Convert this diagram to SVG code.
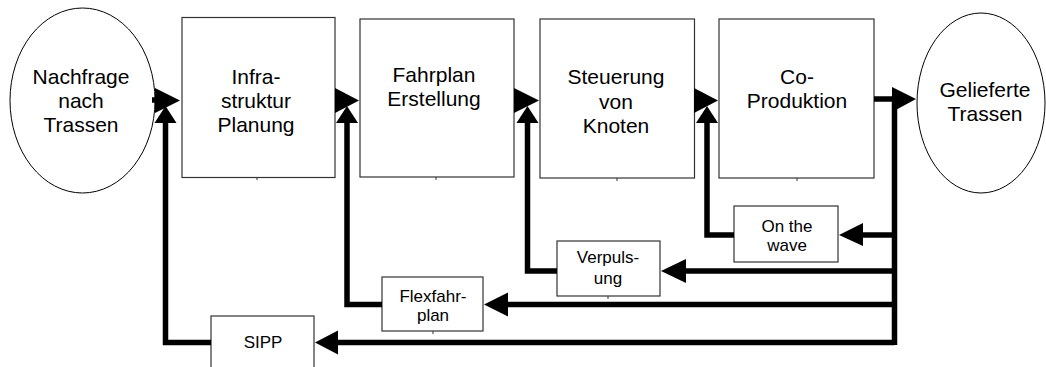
<svg xmlns="http://www.w3.org/2000/svg" width="1046" height="367" viewBox="0 0 1046 367">
<style>
.box{fill:#fff;stroke:#333;stroke-width:1.2}
.ell{fill:#fff;stroke:#000;stroke-width:1}
.t{font-family:"Liberation Sans",Arial,sans-serif;font-size:21px;fill:#000;text-anchor:middle}
.s{font-family:"Liberation Sans",Arial,sans-serif;font-size:17px;fill:#000;text-anchor:middle}
.ln{fill:none;stroke:#000;stroke-width:5.5;stroke-linejoin:miter;stroke-linecap:butt}
.ah{fill:#000}
.tick{stroke:#333;stroke-width:1}
</style>
<rect width="1046" height="367" fill="#fff"/>
<g id="nachfrage">
<ellipse class="ell" cx="82.5" cy="100.5" rx="72.5" ry="92.5"/>
<text class="t" x="81" y="84">Nachfrage</text>
<text class="t" x="81" y="108">nach</text>
<text class="t" x="81" y="132">Trassen</text>
</g>
<g id="infrastruktur">
<rect class="box" x="182" y="17.5" width="153" height="160"/>
<line class="tick" x1="257" y1="177" x2="257" y2="180"/>
<text class="t" x="256" y="84">Infra-</text>
<text class="t" x="256" y="108">struktur</text>
<text class="t" x="256" y="132">Planung</text>
</g>
<g id="fahrplan">
<rect class="box" x="360" y="19" width="154" height="158"/>
<line class="tick" x1="436" y1="177" x2="436" y2="180"/>
<text class="t" x="434" y="82">Fahrplan</text>
<text class="t" x="434" y="106">Erstellung</text>
</g>
<g id="steuerung">
<rect class="box" x="540" y="19" width="154.5" height="159"/>
<line class="tick" x1="617" y1="178" x2="617" y2="181"/>
<text class="t" x="616" y="84">Steuerung</text>
<text class="t" x="616" y="109">von</text>
<text class="t" x="616" y="133">Knoten</text>
</g>
<g id="coproduktion">
<rect class="box" x="719" y="19" width="155" height="159"/>
<line class="tick" x1="797" y1="178" x2="797" y2="181"/>
<text class="t" x="797" y="84">Co-</text>
<text class="t" x="797" y="108">Produktion</text>
</g>
<g id="gelieferte">
<ellipse class="ell" cx="981" cy="103" rx="64" ry="90"/>
<text class="t" x="985" y="97">Gelieferte</text>
<text class="t" x="985" y="121">Trassen</text>
</g>
<g id="onthewave">
<rect class="box" x="734" y="206" width="104" height="56"/>
<text class="s" x="787" y="232">On the</text>
<text class="s" x="787" y="251">wave</text>
</g>
<g id="verpulsung">
<rect class="box" x="557" y="241" width="103" height="55"/>
<line class="tick" x1="608" y1="296" x2="608" y2="299"/>
<text class="s" x="608" y="263">Verpuls-</text>
<text class="s" x="608" y="284">ung</text>
</g>
<g id="flexfahrplan">
<rect class="box" x="382" y="277" width="101" height="54"/>
<line class="tick" x1="433" y1="331" x2="433" y2="334"/>
<text class="s" x="433" y="302">Flexfahr-</text>
<text class="s" x="433" y="321">plan</text>
</g>
<g id="sipp">
<rect class="box" x="211" y="316" width="103" height="60"/>
<text class="s" x="263" y="348">SIPP</text>
</g>
<g id="connectors">
<!-- forward chain -->
<line class="ln" x1="152" y1="100" x2="160" y2="100"/>
<polygon class="ah" points="155,88 180,100.5 155,113"/>
<polygon class="ah" points="335,88 359,100.5 335,113"/>
<polygon class="ah" points="514,88 539,100.5 514,113"/>
<polygon class="ah" points="694,88 718,100.5 694,113"/>
<line class="ln" x1="874" y1="99" x2="895" y2="99"/>
<polygon class="ah" points="892,87 916,99 892,112"/>
<!-- bus -->
<polyline class="ln" points="894.5,96.5 894.5,345"/>
<!-- On the wave -->
<line class="ln" x1="897" y1="235" x2="860" y2="235"/>
<polygon class="ah" points="863,223 839,235 863,246"/>
<polyline class="ln" points="734,235 707,235 707,120"/>
<polygon class="ah" points="696,123 707,106 718,123"/>
<!-- Verpulsung -->
<line class="ln" x1="897" y1="271" x2="683" y2="271"/>
<polygon class="ah" points="686,259 661,271 686,283"/>
<polyline class="ln" points="557,271 527.5,271 527.5,120"/>
<polygon class="ah" points="516.5,123 527.5,106 538.5,123"/>
<!-- Flexfahrplan -->
<line class="ln" x1="897" y1="304.5" x2="505" y2="304.5"/>
<polygon class="ah" points="508,292.5 484,304.5 508,316.5"/>
<polyline class="ln" points="382,304.5 347,304.5 347,120"/>
<polygon class="ah" points="336,123 347,106 358,123"/>
<!-- SIPP -->
<polyline class="ln" points="894.5,342.5 335,342.5"/>
<polygon class="ah" points="338,330.5 315,342.5 338,354.5"/>
<polyline class="ln" points="211,342.5 165.5,342.5 165.5,120"/>
<polygon class="ah" points="154.5,123 165.5,106 176.5,123"/>
</g>
</svg>
